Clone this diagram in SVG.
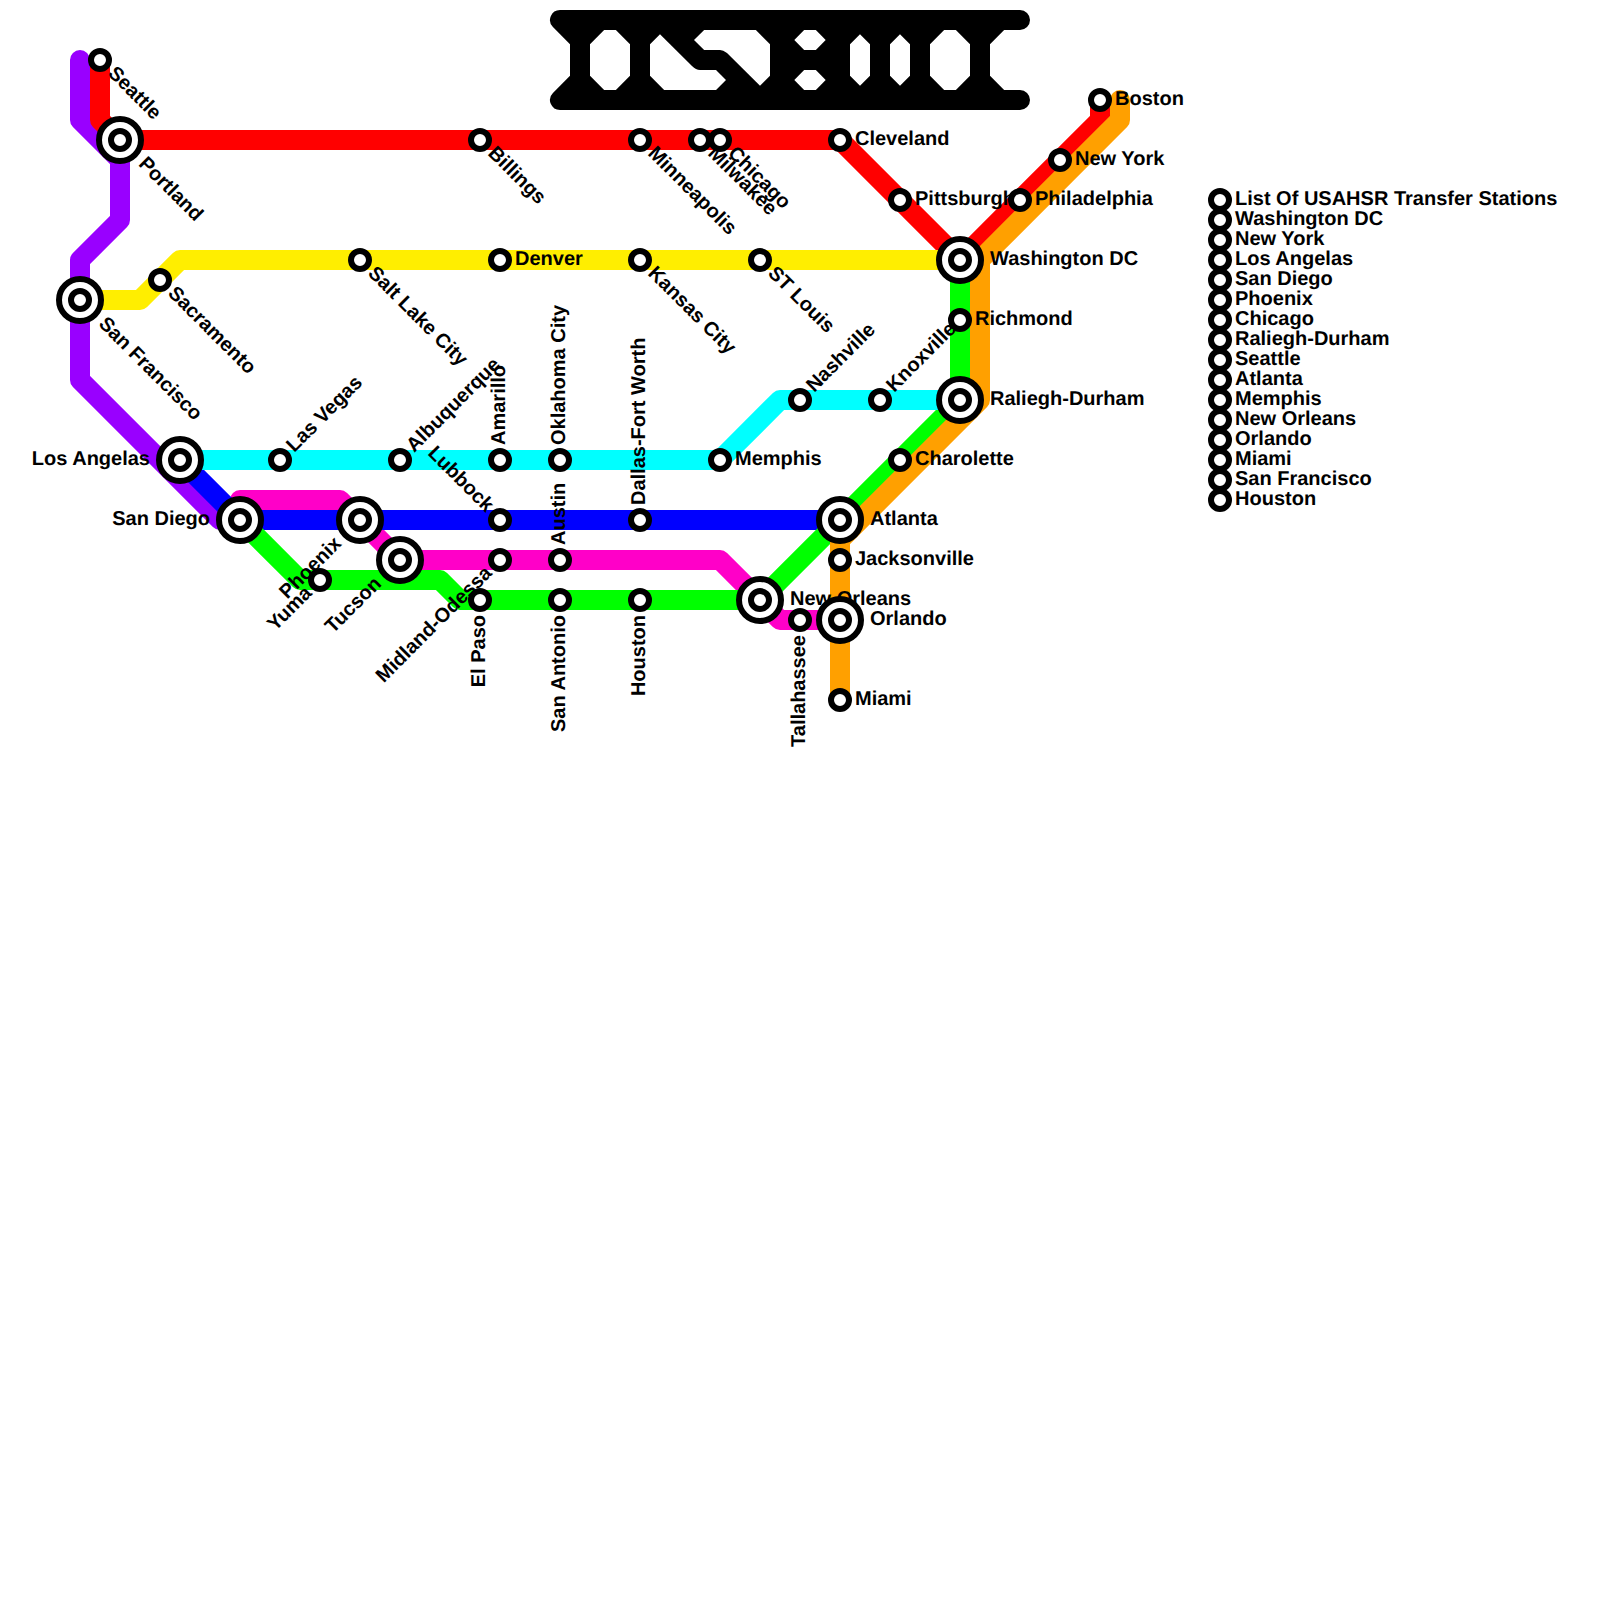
<svg xmlns="http://www.w3.org/2000/svg" width="1600" height="1600" viewBox="0 0 1600 1600">
<style>
.l{fill:none;stroke-width:20;stroke-linecap:round;stroke-linejoin:round}
.s{fill:#fff;stroke:#000;stroke-width:6}
text{font-family:"Liberation Sans",Arial,sans-serif;font-weight:700;font-size:20px;fill:#000;text-rendering:geometricPrecision}
.e{text-anchor:end}
</style>
<rect width="1600" height="1600" fill="#fff"/>
<path id="logo" fill="#000" fill-rule="evenodd" d="M560 10H1020A10 10 0 0 1 1020 30H1004.14L990 44.14V75.86L1004.14 90H1020A10 10 0 0 1 1020 110H560A10 10 0 0 1 552.93 92.93L570 75.86V44.14L552.93 27.07A10 10 0 0 1 560 10Z
M604.14 30H615.86L630 44.14V75.86L615.86 90H604.14L590 75.86V44.14Z
M650 44.14L660 34.14L692 66Q696 70 700 70H716L726 80L716 90H664.14L650 75.86Z
M694 40L704.14 30H755.86L770 44.14V75.86L760 85.86L727 53Q723 50 720 50H704.14Z
M794.3 40L804.14 30H815.86L825.7 40L815.86 50H804.14Z
M794.3 80L804.14 70H815.86L825.7 80L815.86 90H804.14Z
M850 44.14L860 34.14L870 44.14V75.86L860 85.86L850 75.86Z
M890 44.14L900 34.14L910 44.14V75.86L900 85.86L890 75.86Z
M930 44.14L944.14 30H955.86L970 44.14V75.86L955.86 90H944.14L930 75.86Z"/>
<g id="connectors">
<path class="l" stroke="#9900ff" d="M80 60V120L120 160V220L80 260V380L220 520"/>
<path class="l" stroke="#ff00c8" d="M240 500H340L400 560H720L780 620H840"/>
<path class="l" stroke="#0000ff" d="M180 460L240 520H840"/>
<path class="l" stroke="#00ff00" d="M240 520L300 580H440L460 600H760L960 400V260"/>
<path class="l" stroke="#ff0000" d="M100 60V120L120 140H840L960 260L1100 120V100"/>
<path class="l" stroke="#ffa000" d="M1120 100V120L980 260V400L840 540V700"/>
<path class="l" stroke="#00ffff" d="M180 460H720L780 400H960"/>
<path class="l" stroke="#ffee00" d="M80 300H140L180 260H960"/>
</g>
<g id="seattle"><text x="115" y="65" transform="rotate(45 100 60)">Seattle</text><circle class="s" cx="100" cy="60" r="9"/></g>
<g id="portland"><text x="150" y="145" transform="rotate(45 120 140)">Portland</text><circle class="s" cx="120" cy="140" r="21"/><circle class="s" cx="120" cy="140" r="9"/></g>
<g id="san-francisco"><text x="110" y="305" transform="rotate(45 80 300)">San Francisco</text><circle class="s" cx="80" cy="300" r="21"/><circle class="s" cx="80" cy="300" r="9"/></g>
<g id="sacramento"><text x="175" y="285" transform="rotate(45 160 280)">Sacramento</text><circle class="s" cx="160" cy="280" r="9"/></g>
<g id="los-angeles"><text class="e" x="150" y="465">Los Angelas</text><circle class="s" cx="180" cy="460" r="21"/><circle class="s" cx="180" cy="460" r="9"/></g>
<g id="san-diego"><text class="e" x="210" y="525">San Diego</text><circle class="s" cx="240" cy="520" r="21"/><circle class="s" cx="240" cy="520" r="9"/></g>
<g id="las-vegas"><text x="295" y="465" transform="rotate(-45 280 460)">Las Vegas</text><circle class="s" cx="280" cy="460" r="9"/></g>
<g id="salt-lake-city"><text x="375" y="265" transform="rotate(45 360 260)">Salt Lake City</text><circle class="s" cx="360" cy="260" r="9"/></g>
<g id="phoenix"><text class="e" x="330" y="525" transform="rotate(-45 360 520)">Phoenix</text><circle class="s" cx="360" cy="520" r="21"/><circle class="s" cx="360" cy="520" r="9"/></g>
<g id="yuma"><text class="e" x="305" y="585" transform="rotate(-45 320 580)">Yuma</text><circle class="s" cx="320" cy="580" r="9"/></g>
<g id="tucson"><text class="e" x="370" y="565" transform="rotate(-45 400 560)">Tucson</text><circle class="s" cx="400" cy="560" r="21"/><circle class="s" cx="400" cy="560" r="9"/></g>
<g id="albuquerque"><text x="415" y="465" transform="rotate(-45 400 460)">Albuquerque</text><circle class="s" cx="400" cy="460" r="9"/></g>
<g id="billings"><text x="495" y="145" transform="rotate(45 480 140)">Billings</text><circle class="s" cx="480" cy="140" r="9"/></g>
<g id="el-paso"><text class="e" x="465" y="605" transform="rotate(-90 480 600)">El Paso</text><circle class="s" cx="480" cy="600" r="9"/></g>
<g id="denver"><text x="515" y="265">Denver</text><circle class="s" cx="500" cy="260" r="9"/></g>
<g id="amarillo"><text x="515" y="465" transform="rotate(-90 500 460)">Amarillo</text><circle class="s" cx="500" cy="460" r="9"/></g>
<g id="lubbock"><text class="e" x="485" y="525" transform="rotate(45 500 520)">Lubbock</text><circle class="s" cx="500" cy="520" r="9"/></g>
<g id="midland-odessa"><text class="e" x="485" y="565" transform="rotate(-45 500 560)">Midland-Odessa</text><circle class="s" cx="500" cy="560" r="9"/></g>
<g id="oklahoma-city"><text x="575" y="465" transform="rotate(-90 560 460)">Oklahoma City</text><circle class="s" cx="560" cy="460" r="9"/></g>
<g id="austin"><text x="575" y="565" transform="rotate(-90 560 560)">Austin</text><circle class="s" cx="560" cy="560" r="9"/></g>
<g id="san-antonio"><text class="e" x="545" y="605" transform="rotate(-90 560 600)">San Antonio</text><circle class="s" cx="560" cy="600" r="9"/></g>
<g id="minneapolis"><text x="655" y="145" transform="rotate(45 640 140)">Minneapolis</text><circle class="s" cx="640" cy="140" r="9"/></g>
<g id="kansas-city"><text x="655" y="265" transform="rotate(45 640 260)">Kansas City</text><circle class="s" cx="640" cy="260" r="9"/></g>
<g id="dallas"><text x="655" y="525" transform="rotate(-90 640 520)">Dallas-Fort Worth</text><circle class="s" cx="640" cy="520" r="9"/></g>
<g id="houston"><text class="e" x="625" y="605" transform="rotate(-90 640 600)">Houston</text><circle class="s" cx="640" cy="600" r="9"/></g>
<g id="milwaukee"><text x="715" y="145" transform="rotate(45 700 140)">Milwakee</text><circle class="s" cx="700" cy="140" r="9"/></g>
<g id="chicago"><text x="735" y="145" transform="rotate(45 720 140)">Chicago</text><circle class="s" cx="720" cy="140" r="9"/></g>
<g id="memphis"><text x="735" y="465">Memphis</text><circle class="s" cx="720" cy="460" r="9"/></g>
<g id="st-louis"><text x="775" y="265" transform="rotate(45 760 260)">ST Louis</text><circle class="s" cx="760" cy="260" r="9"/></g>
<g id="new-orleans"><text x="790" y="605">New Orleans</text><circle class="s" cx="760" cy="600" r="21"/><circle class="s" cx="760" cy="600" r="9"/></g>
<g id="nashville"><text x="815" y="405" transform="rotate(-45 800 400)">Nashville</text><circle class="s" cx="800" cy="400" r="9"/></g>
<g id="tallahassee"><text class="e" x="785" y="625" transform="rotate(-90 800 620)">Tallahassee</text><circle class="s" cx="800" cy="620" r="9"/></g>
<g id="cleveland"><text x="855" y="145">Cleveland</text><circle class="s" cx="840" cy="140" r="9"/></g>
<g id="atlanta"><text x="870" y="525">Atlanta</text><circle class="s" cx="840" cy="520" r="21"/><circle class="s" cx="840" cy="520" r="9"/></g>
<g id="jacksonville"><text x="855" y="565">Jacksonville</text><circle class="s" cx="840" cy="560" r="9"/></g>
<g id="orlando"><text x="870" y="625">Orlando</text><circle class="s" cx="840" cy="620" r="21"/><circle class="s" cx="840" cy="620" r="9"/></g>
<g id="miami"><text x="855" y="705">Miami</text><circle class="s" cx="840" cy="700" r="9"/></g>
<g id="knoxville"><text x="895" y="405" transform="rotate(-45 880 400)">Knoxville</text><circle class="s" cx="880" cy="400" r="9"/></g>
<g id="pittsburgh"><text x="915" y="205">Pittsburgh</text><circle class="s" cx="900" cy="200" r="9"/></g>
<g id="charlotte"><text x="915" y="465">Charolette</text><circle class="s" cx="900" cy="460" r="9"/></g>
<g id="washington-dc"><text x="990" y="265">Washington DC</text><circle class="s" cx="960" cy="260" r="21"/><circle class="s" cx="960" cy="260" r="9"/></g>
<g id="richmond"><text x="975" y="325">Richmond</text><circle class="s" cx="960" cy="320" r="9"/></g>
<g id="raleigh-durham"><text x="990" y="405">Raliegh-Durham</text><circle class="s" cx="960" cy="400" r="21"/><circle class="s" cx="960" cy="400" r="9"/></g>
<g id="philadelphia"><text x="1035" y="205">Philadelphia</text><circle class="s" cx="1020" cy="200" r="9"/></g>
<g id="new-york"><text x="1075" y="165">New York</text><circle class="s" cx="1060" cy="160" r="9"/></g>
<g id="boston"><text x="1115" y="105">Boston</text><circle class="s" cx="1100" cy="100" r="9"/></g>
<g id="legend">
<g id="legend-0"><circle class="s" cx="1220" cy="200" r="9"/><text x="1235" y="205">List Of USAHSR Transfer Stations</text></g>
<g id="legend-1"><circle class="s" cx="1220" cy="220" r="9"/><text x="1235" y="225">Washington DC</text></g>
<g id="legend-2"><circle class="s" cx="1220" cy="240" r="9"/><text x="1235" y="245">New York</text></g>
<g id="legend-3"><circle class="s" cx="1220" cy="260" r="9"/><text x="1235" y="265">Los Angelas</text></g>
<g id="legend-4"><circle class="s" cx="1220" cy="280" r="9"/><text x="1235" y="285">San Diego</text></g>
<g id="legend-5"><circle class="s" cx="1220" cy="300" r="9"/><text x="1235" y="305">Phoenix</text></g>
<g id="legend-6"><circle class="s" cx="1220" cy="320" r="9"/><text x="1235" y="325">Chicago</text></g>
<g id="legend-7"><circle class="s" cx="1220" cy="340" r="9"/><text x="1235" y="345">Raliegh-Durham</text></g>
<g id="legend-8"><circle class="s" cx="1220" cy="360" r="9"/><text x="1235" y="365">Seattle</text></g>
<g id="legend-9"><circle class="s" cx="1220" cy="380" r="9"/><text x="1235" y="385">Atlanta</text></g>
<g id="legend-10"><circle class="s" cx="1220" cy="400" r="9"/><text x="1235" y="405">Memphis</text></g>
<g id="legend-11"><circle class="s" cx="1220" cy="420" r="9"/><text x="1235" y="425">New Orleans</text></g>
<g id="legend-12"><circle class="s" cx="1220" cy="440" r="9"/><text x="1235" y="445">Orlando</text></g>
<g id="legend-13"><circle class="s" cx="1220" cy="460" r="9"/><text x="1235" y="465">Miami</text></g>
<g id="legend-14"><circle class="s" cx="1220" cy="480" r="9"/><text x="1235" y="485">San Francisco</text></g>
<g id="legend-15"><circle class="s" cx="1220" cy="500" r="9"/><text x="1235" y="505">Houston</text></g>
</g>
</svg>
